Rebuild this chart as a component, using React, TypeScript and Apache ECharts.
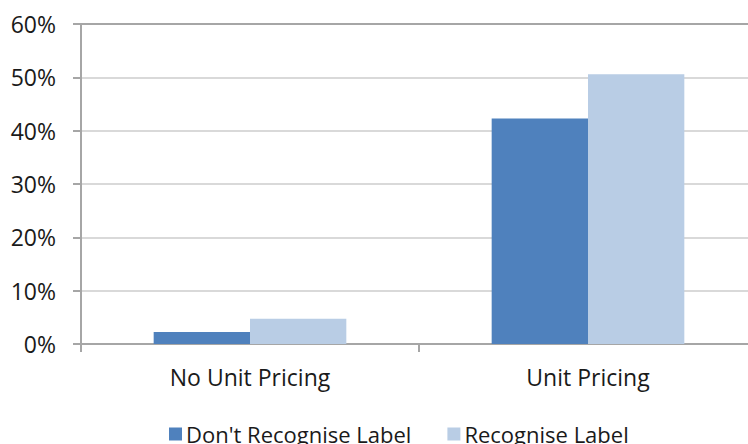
import React, { useEffect, useRef } from "react";
import * as echarts from "echarts";

// Share of shoppers by pricing display, split by label recognition (percent)
const categories = ["No Unit Pricing", "Unit Pricing"];
const dontRecognise = [2.25, 42.3];
const recognise = [4.75, 50.6];
const seriesNames = ["Don't Recognise Label", "Recognise Label"];

const FONT = "'Open Sans', 'Noto Sans', sans-serif";
const TEXT = "#1a1a1a";

export default function App() {
  const ref = useRef<HTMLDivElement>(null);

  useEffect(() => {
    if (!ref.current) return;
    const chart = echarts.init(ref.current, undefined, { renderer: "svg" });
    chart.setOption({
      animation: false,
      backgroundColor: "#ffffff",
      textStyle: { fontFamily: FONT },
      grid: {
        left: 81,
        right: -9,
        top: 24,
        bottom: 100,
        containLabel: false,
        outerBoundsMode: "none",
      },
      legend: {
        left: 164,
        top: 418,
        itemWidth: 13,
        itemHeight: 13,
        itemGap: 36,
        icon: "rect",
        textStyle: { fontFamily: FONT, fontSize: 22, color: TEXT, padding: [0, 0, 0, -1] },
        data: seriesNames,
      },
      xAxis: {
        type: "category",
        data: categories,
        axisLine: { lineStyle: { color: "#a6a6a6", width: 2 } },
        axisTick: { show: true, length: 8, lineStyle: { color: "#a6a6a6", width: 2 } },
        axisLabel: { fontFamily: FONT, fontSize: 23, color: TEXT, margin: 21 },
      },
      yAxis: {
        type: "value",
        min: 0,
        max: 60,
        interval: 10,
        axisLine: { show: true, lineStyle: { color: "#a6a6a6", width: 2 } },
        axisTick: { show: true, length: 8, lineStyle: { color: "#a6a6a6", width: 2 } },
        axisLabel: {
          fontFamily: FONT,
          fontSize: 23,
          color: TEXT,
          margin: 25,
          formatter: "{value}%",
        },
        splitLine: {
          show: true,
          lineStyle: {
            color: ["#d9d9d9", "#d9d9d9", "#d9d9d9", "#d9d9d9", "#d9d9d9", "#d9d9d9", "#a6a6a6"],
            width: 2,
          },
        },
      },
      series: [
        {
          name: seriesNames[0],
          type: "bar",
          data: dontRecognise,
          barGap: "0%",
          barCategoryGap: "43%",
          itemStyle: { color: "#4f81bd" },
        },
        {
          name: seriesNames[1],
          type: "bar",
          data: recognise,
          barGap: "0%",
          barCategoryGap: "43%",
          itemStyle: { color: "#b9cde5" },
        },
      ],
    });
    return () => chart.dispose();
  }, []);

  return (
    <div
      ref={ref}
      style={{ position: "fixed", left: 0, top: 0, width: 748, height: 444 }}
    />
  );
}
